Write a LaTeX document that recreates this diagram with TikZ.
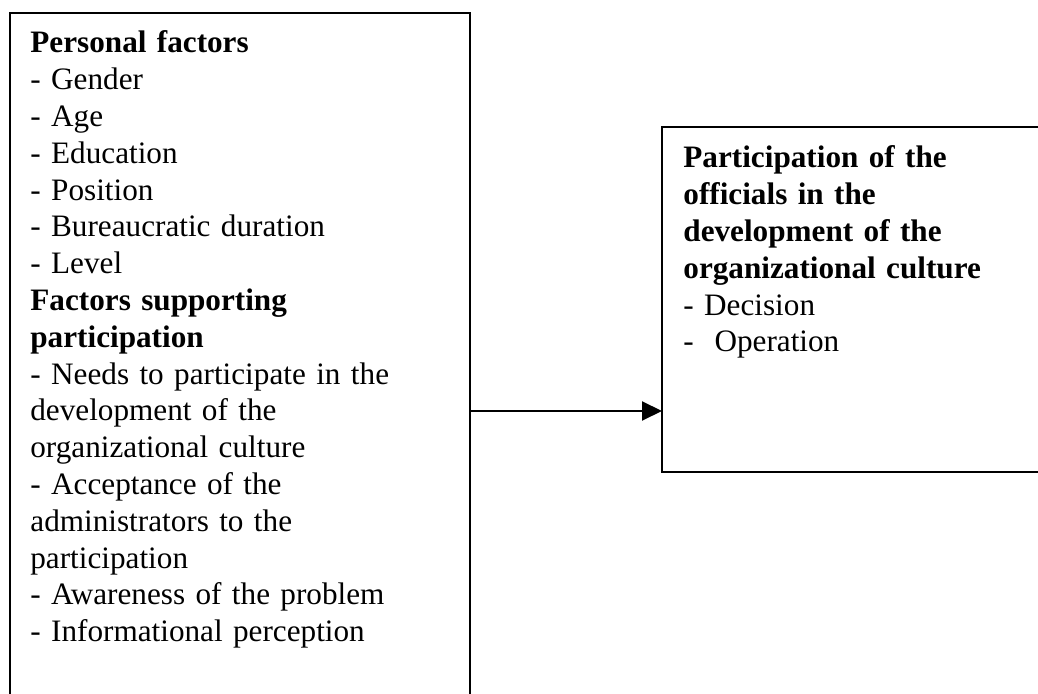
\documentclass[tikz,border=0pt]{standalone}
\usepackage{fontspec}
\setmainfont{Liberation Serif}
\usepackage{tikz}
\usetikzlibrary{arrows.meta,positioning}

\begin{document}
\begin{tikzpicture}[x=0.5pt,y=-0.5pt,
  panel/.style={draw,line width=1pt,outer sep=0pt,inner sep=0pt,anchor=north west},
  listing/.style={anchor=base west,inner sep=0pt,align=left,
    font=\fontsize{15.6pt}{18.4pt}\selectfont}]
  \useasboundingbox (0,0) rectangle (1038,694);
  % left box runs past the bottom edge, right box past the right edge
  \node[panel,minimum width=230pt,minimum height=343.5pt] (factors) at (10,13) {};
  \node[panel,minimum width=191.5pt,minimum height=172.5pt] (outcome) at (662,127) {};
  \node[listing,text width=215pt] (factorlist) at (30,53) {%
    \textbf{Personal factors}\\
    - Gender\\
    - Age\\
    - Education\\
    - Position\\
    - Bureaucratic duration\\
    - Level\\
    \textbf{Factors supporting}\\
    \textbf{participation}\\
    - Needs to participate in the\\
    development of the\\
    organizational culture\\
    - Acceptance of the\\
    administrators to the\\
    participation\\
    - Awareness of the problem\\
    - Informational perception};
  \node[listing,text width=175pt] (outcomelist) at (683,168) {%
    \textbf{Participation of the}\\
    \textbf{officials in the}\\
    \textbf{development of the}\\
    \textbf{organizational culture}\\
    - Decision\\
    -\ \ Operation};
  \coordinate (lvl) at (0,411);
  \draw[line width=1pt,-{Triangle[length=10pt,width=9.5pt]}]
    (factors.east |- lvl) -- (outcome.west |- lvl);
\end{tikzpicture}
\end{document}
